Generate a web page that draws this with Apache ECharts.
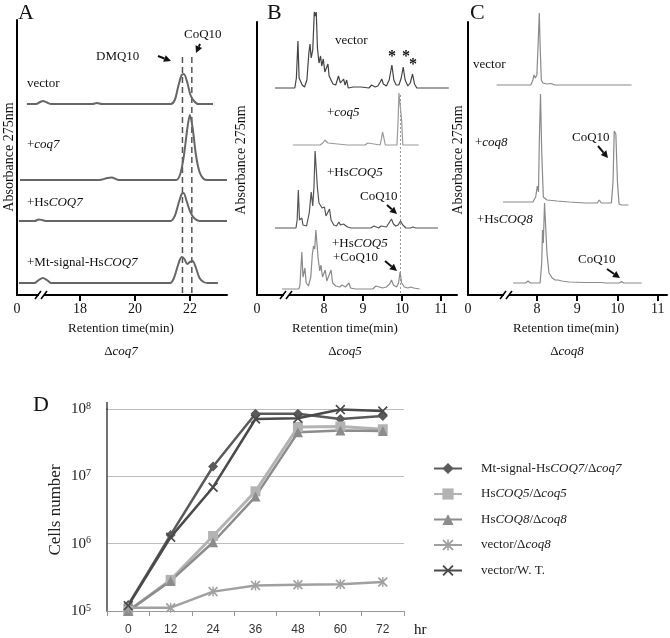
<!DOCTYPE html>
<html>
<head>
<meta charset="utf-8">
<script src="https://cdn.jsdelivr.net/npm/echarts@6/dist/echarts.min.js"></script>
<style>html,body{margin:0;padding:0;background:#fff}#c{width:670px;height:638px}</style>
</head>
<body>
<div id="c"></div>
<script>
// ---------- Panel A (Δcoq7) : [retention time (min), absorbance above baseline] ----------
const aVector = [[16.07,0],[16.4,0],[16.55,2],[16.65,3],[16.8,1.5],[16.95,0],[18.45,0],[18.62,1],[18.8,0],[21.3,0],[21.45,4],[21.58,18],[21.7,29],[21.78,30],[21.9,22],[22.02,9],[22.15,3],[22.3,0],[22.84,0]];
const aCoq7 = [[15.82,0],[18.7,0],[19.0,2],[19.15,2.5],[19.4,0],[21.5,0],[21.65,6],[21.78,24],[21.9,50],[22.0,65],[22.1,52],[22.22,25],[22.35,8],[22.5,1],[22.65,0],[23.35,0]];
const aHsCOQ7 = [[15.78,0],[16.35,0],[16.5,1.5],[16.62,1],[16.8,0],[21.3,0],[21.45,5],[21.58,17],[21.7,27],[21.77,28],[21.88,20],[22.0,10],[22.15,3],[22.35,0],[23.35,0]];
const aMtHsCOQ7 = [[15.78,0],[16.35,0],[16.5,3],[16.65,5],[16.8,3],[16.95,0],[21.28,0],[21.42,5],[21.57,18],[21.7,26],[21.8,24],[21.9,19],[22.0,21],[22.1,22],[22.22,15],[22.35,5],[22.5,1],[22.65,0],[23.02,0]];
const aOffsets = [191, 115, 74, 12];
const aDMQ10 = 21.73, aCoQ10 = 22.07;
const aTicks = [18, 20, 22];

// ---------- Panel B (Δcoq5) ----------
const bVector = [[6.74,0],[7.25,0],[7.29,10],[7.33,47],[7.36,10],[7.39,9],[7.41,12],[7.44,3],[7.5,1],[7.56,8],[7.61,35],[7.64,44],[7.67,30],[7.71,38],[7.75,76],[7.78,72],[7.8,76],[7.83,40],[7.87,25],[7.91,32],[7.94,22],[7.98,29],[8.02,16],[8.06,18],[8.1,24],[8.13,12],[8.18,10],[8.23,4],[8.3,3],[8.37,12],[8.42,5],[8.46,6],[8.5,9],[8.54,3],[8.58,8],[8.62,0],[8.75,1],[8.8,0],[8.95,1],[9.0,0],[9.15,0],[9.22,3],[9.26,4],[9.31,1],[9.38,2],[9.44,6],[9.48,9],[9.52,4],[9.6,2],[9.67,8],[9.74,23],[9.79,8],[9.85,3],[9.92,3],[9.98,10],[10.03,21],[10.08,8],[10.15,2],[10.21,5],[10.27,14],[10.32,4],[10.38,0],[11.2,0]];
const bCoq5 = [[7.2,0],[7.9,0],[7.97,2],[8.02,5],[8.06,4],[8.1,2],[8.15,0],[8.6,0],[8.65,2],[8.7,0],[9.05,0],[9.12,2],[9.17,0],[9.44,0],[9.48,8],[9.5,13],[9.53,8],[9.57,0],[9.87,0],[9.9,25],[9.92,52],[9.97,52],[9.99,25],[10.02,0],[10.43,0]];
const bHsCOQ5 = [[6.74,0],[7.28,0],[7.31,8],[7.34,38],[7.37,8],[7.41,8],[7.43,10],[7.46,3],[7.55,2],[7.62,15],[7.67,36],[7.71,22],[7.74,40],[7.77,77],[7.8,77],[7.83,40],[7.87,25],[7.91,27],[7.95,20],[7.98,19],[8.01,21],[8.05,12],[8.1,14],[8.14,19],[8.18,8],[8.25,3],[8.32,2],[8.38,6],[8.42,3],[8.5,4],[8.55,6],[8.6,1],[8.7,0],[9.2,0],[9.28,2],[9.32,1],[9.4,0],[9.46,2],[9.5,1],[9.6,1],[9.68,6],[9.73,9],[9.78,4],[9.84,2],[9.9,3],[9.96,7],[10.02,3],[10.1,0],[10.22,0],[10.28,1],[10.35,0],[10.92,0]];
const bHsCOQ5CoQ10 = [[6.92,0],[7.35,0],[7.38,3],[7.43,37],[7.46,12],[7.49,14],[7.51,21],[7.54,6],[7.6,3],[7.66,12],[7.7,35],[7.73,43],[7.76,40],[7.79,59],[7.82,59],[7.85,30],[7.89,18],[7.92,24],[7.96,12],[8.0,14],[8.03,19],[8.07,8],[8.12,9],[8.18,19],[8.22,6],[8.3,3],[8.4,2],[8.46,4],[8.5,6],[8.55,2],[8.6,3],[8.64,6],[8.68,1],[8.8,0],[9.25,0],[9.3,2],[9.33,3],[9.38,1],[9.5,1],[9.6,2],[9.68,5],[9.73,9],[9.78,4],[9.86,2],[9.91,6],[9.95,17],[9.99,6],[10.06,2],[10.15,1],[10.22,2],[10.25,3],[10.3,1],[10.45,0]];
const bOffsets = [207, 150, 67, 6];
const bCoQ10Line = 9.96;
const bTicks = [8, 9, 10, 11];

// ---------- Panel C (Δcoq8) ----------
const cVector = [[7.0,0],[7.85,0],[7.9,5],[7.93,10],[7.96,7],[8.0,10],[8.03,40],[8.06,72],[8.08,40],[8.11,5],[8.15,2],[8.25,1],[8.35,1.5],[8.45,0],[10.35,0]];
const cCoq8 = [[7.16,0],[7.9,0],[7.97,5],[8.01,16],[8.04,10],[8.06,60],[8.09,108],[8.12,50],[8.16,5],[8.25,2],[8.5,1],[8.8,0],[9.2,-1],[9.5,-1],[9.55,2],[9.6,-1],[9.85,-1],[9.89,20],[9.92,71],[9.96,68],[10.0,20],[10.04,-2],[10.1,-3],[10.27,-3]];
const cHsCOQ8 = [[7.41,0],[7.72,0],[7.78,2],[7.84,0],[8.08,0],[8.12,20],[8.14,53],[8.16,40],[8.19,80],[8.22,80],[8.25,30],[8.3,10],[8.38,5],[8.45,3],[8.53,3],[8.57,4],[8.62,2],[8.8,1],[9.2,0.5],[9.6,0.5],[9.7,0],[10.05,0],[10.1,1.5],[10.15,0],[10.6,0]];
const cOffsets = [210, 93, 12];
const cTicks = [8, 9, 10, 11];

// ---------- Panel D : growth curves ----------
const hours = ['0', '12', '24', '36', '48', '60', '72'];
const mtCOQ7 = [1.23e5, 1.35e6, 1.4e7, 8.5e7, 8.5e7, 7.1e7, 7.9e7];
const hsCOQ5 = [1.0e5, 2.9e5, 1.3e6, 6.0e6, 5.4e7, 5.5e7, 5.0e7];
const hsCOQ8 = [1.0e5, 2.8e5, 1.05e6, 5.0e6, 4.5e7, 4.8e7, 4.7e7];
const vecCoq8 = [1.12e5, 1.12e5, 1.94e5, 2.4e5, 2.45e5, 2.5e5, 2.7e5];
const vecWT = [1.2e5, 1.25e6, 6.9e6, 7.1e7, 7.3e7, 9.8e7, 9.3e7];
const dNames = ['Mt-signal-HsCOQ7/Δcoq7', 'HsCOQ5/Δcoq5', 'HsCOQ8/Δcoq8', 'vector/Δcoq8', 'vector/W. T.'];

// ---------- build ----------
const SERIF = "'Liberation Serif','DejaVu Serif',serif";
const SANS = "'Liberation Sans','DejaVu Sans',sans-serif";
const chart = echarts.init(document.getElementById('c'), null, {renderer: 'canvas'});

function shift(arr, off) { return arr.map(p => [p[0], p[1] + off]); }

function chromX(gi, min, max, ticks) {
  return {
    gridIndex: gi, type: 'value', min: min, max: max,
    axisLine: {show: true, onZero: false, lineStyle: {color: '#000', width: 2}},
    axisTick: {show: true, inside: false, length: 6, customValues: ticks, lineStyle: {color: '#000', width: 2}},
    axisLabel: {show: true, customValues: [min].concat(ticks), margin: 7,
      fontFamily: SERIF, fontSize: 14, color: '#111',
      formatter: v => (Math.abs(v - min) < 1e-6 ? '0' : String(v))},
    splitLine: {show: false}
  };
}
function chromY(gi, h) {
  return {gridIndex: gi, type: 'value', min: 0, max: h,
    axisLine: {show: true, onZero: false, lineStyle: {color: '#000', width: 2}},
    axisTick: {show: false}, axisLabel: {show: false}, splitLine: {show: false}};
}
function trace(gi, data, off, color, width, smooth) {
  return {type: 'line', xAxisIndex: gi, yAxisIndex: gi, data: shift(data, off),
    symbol: 'none', smooth: smooth || false, clip: false, lineStyle: {color: color, width: width},
    silent: true, animation: false, z: 3};
}
function vline(gi, x, y0, y1, color, type, width) {
  return {type: 'line', xAxisIndex: gi, yAxisIndex: gi, data: [[x, y0], [x, y1]], clip: false,
    symbol: 'none', lineStyle: {color: color, width: width, type: type}, silent: true, animation: false, z: 2};
}

const series = [
  trace(0, aVector, aOffsets[0], '#666', 2, 0.3),
  trace(0, aCoq7, aOffsets[1], '#666', 2, 0.3),
  trace(0, aHsCOQ7, aOffsets[2], '#666', 2, 0.3),
  trace(0, aMtHsCOQ7, aOffsets[3], '#666', 2, 0.3),
  vline(0, aDMQ10, 2, 238, '#555', [6, 4], 1.5),
  vline(0, aCoQ10, 2, 238, '#555', [6, 4], 1.5),

  trace(1, bVector, bOffsets[0], '#444', 1.2),
  trace(1, bCoq5, bOffsets[1], '#9a9a9a', 1.2),
  trace(1, bHsCOQ5, bOffsets[2], '#555', 1.2),
  trace(1, bHsCOQ5CoQ10, bOffsets[3], '#8a8a8a', 1.2),
  vline(1, bCoQ10Line, 2, 202, '#999', [2, 2], 1),

  trace(2, cVector, cOffsets[0], '#8a8a8a', 1.2),
  trace(2, cCoq8, cOffsets[1], '#8a8a8a', 1.2),
  trace(2, cHsCOQ8, cOffsets[2], '#8a8a8a', 1.2)
];

const X_PATH = 'path://M0,1.2L1.2,0L5,3.8L8.8,0L10,1.2L6.2,5L10,8.8L8.8,10L5,6.2L1.2,10L0,8.8L3.8,5Z';
const AST_PATH = 'path://M0,1.2L1.2,0L5,3.8L8.8,0L10,1.2L6.2,5L10,8.8L8.8,10L5,6.2L1.2,10L0,8.8L3.8,5ZM4.3,0L5.7,0L5.7,10L4.3,10Z';
const dDefs = [
  {name: dNames[0], data: mtCOQ7, color: '#5a5a5a', symbol: 'diamond', size: 10, w: 2.5},
  {name: dNames[1], data: hsCOQ5, color: '#b3b3b3', symbol: 'rect', size: 10, w: 3},
  {name: dNames[2], data: hsCOQ8, color: '#8c8c8c', symbol: 'triangle', size: 10, w: 2.5},
  {name: dNames[3], data: vecCoq8, color: '#a0a0a0', symbol: AST_PATH, size: 10, w: 2.5},
  {name: dNames[4], data: vecWT, color: '#4a4a4a', symbol: X_PATH, size: 10, w: 2.5}
];
dDefs.forEach(d => series.push({
  type: 'line', name: d.name, xAxisIndex: 3, yAxisIndex: 3, data: d.data,
  symbol: d.symbol, symbolSize: d.size, showSymbol: true, clip: false,
  lineStyle: {color: d.color, width: d.w}, itemStyle: {color: d.color},
  animation: false, z: 4
}));

// ---------- annotations ----------
function txt(x, y, s, o) {
  o = o || {};
  return {type: 'text', x: x, y: y, rotation: o.rot || 0, z: 10, silent: true,
    style: {text: s, fontFamily: SERIF, fontSize: o.size || 13, fill: o.color || '#111',
      fontWeight: o.weight || 'normal',
      textAlign: o.align || 'left', textVerticalAlign: o.valign || 'middle',
      rich: {i: {fontStyle: 'italic', fontFamily: SERIF, fontSize: o.size || 13, fill: o.color || '#111'},
             n: {fontFamily: SERIF, fontSize: o.size || 13, fill: o.color || '#111'}}}};
}
function arrow(x1, y1, x2, y2) {
  const a = Math.atan2(y2 - y1, x2 - x1), L = 7, W = 3.6;
  const bx = x2 - L * Math.cos(a), by = y2 - L * Math.sin(a);
  const px = -Math.sin(a) * W, py = Math.cos(a) * W;
  return [
    {type: 'line', z: 10, silent: true, shape: {x1: x1, y1: y1, x2: bx, y2: by}, style: {stroke: '#111', lineWidth: 2}},
    {type: 'polygon', z: 10, silent: true, shape: {points: [[x2, y2], [bx + px, by + py], [bx - px, by - py]]}, style: {fill: '#111'}}
  ];
}
function brk(x, y) {
  return [
    {type: 'rect', z: 11, silent: true, shape: {x: x + 1, y: y - 2, width: 5, height: 4}, style: {fill: '#fff'}},
    {type: 'line', z: 12, silent: true, shape: {x1: x - 3, y1: y + 4, x2: x + 3, y2: y - 4}, style: {stroke: '#000', lineWidth: 1.5}},
    {type: 'line', z: 12, silent: true, shape: {x1: x + 3, y1: y + 4, x2: x + 9, y2: y - 4}, style: {stroke: '#000', lineWidth: 1.5}}
  ];
}

const graphics = [].concat(
  [txt(18, 13, 'A', {size: 22}), txt(267, 13, 'B', {size: 22}), txt(470, 13, 'C', {size: 22}), txt(33, 405, 'D', {size: 22})],
  // panel A
  [txt(96, 57, 'DMQ10'), txt(184, 35, 'CoQ10'), txt(27, 84, 'vector'),
   txt(27, 145, '+{i|coq7}'), txt(27, 203, '+Hs{i|COQ7}'), txt(27, 263, '+Mt-signal-Hs{i|COQ7}')],
  arrow(158, 56, 171, 61), arrow(200, 44, 196, 53),
  // panel B
  [txt(335, 41, 'vector'), txt(392, 57, '*', {size: 16, align: 'center', weight: 'bold'}),
   txt(406, 57, '*', {size: 16, align: 'center', weight: 'bold'}), txt(413, 65, '*', {size: 16, align: 'center', weight: 'bold'}),
   txt(327, 113, '+{i|coq5}'), txt(327, 173, '+Hs{i|COQ5}'), txt(360, 197, 'CoQ10'),
   txt(332, 244, '+Hs{i|COQ5}'), txt(333, 258, '+CoQ10')],
  arrow(387, 205, 397, 214), arrow(385, 261, 397, 271),
  // panel C
  [txt(473, 65, 'vector'), txt(475, 143, '+{i|coq8}'), txt(572, 138, 'CoQ10'),
   txt(477, 220, '+Hs{i|COQ8}'), txt(578, 260, 'CoQ10')],
  arrow(598, 146, 608, 158), arrow(607, 269, 620, 278),
  // axis titles
  [txt(9, 157, 'Absorbance 275nm', {size: 14, rot: Math.PI / 2, align: 'center'}),
   txt(241, 160, 'Absorbance 275nm', {size: 14, rot: Math.PI / 2, align: 'center'}),
   txt(458, 160, 'Absorbance 275nm', {size: 14, rot: Math.PI / 2, align: 'center'}),
   txt(121, 329, 'Retention time(min)', {size: 13, align: 'center'}),
   txt(345, 329, 'Retention time(min)', {size: 13, align: 'center'}),
   txt(566, 329, 'Retention time(min)', {size: 13, align: 'center'}),
   txt(121, 352, 'Δ{i|coq7}', {size: 13, align: 'center'}),
   txt(345, 352, 'Δ{i|coq5}', {size: 13, align: 'center'}),
   txt(567, 352, 'Δ{i|coq8}', {size: 13, align: 'center'}),
   txt(414, 630, 'hr', {size: 15})],
  [{type: 'line', z: 5, silent: true, shape: {x1: 107, y1: 402, x2: 107, y2: 410}, style: {stroke: '#444', lineWidth: 1.5}}],
  brk(38, 295), brk(283, 295), brk(503, 295)
);

const legendLabels = {
  [dNames[0]]: 'Mt-signal-Hs{i|COQ7}/Δ{i|coq7}',
  [dNames[1]]: 'Hs{i|COQ5}/Δ{i|coq5}',
  [dNames[2]]: 'Hs{i|COQ8}/Δ{i|coq8}',
  [dNames[3]]: 'vector/Δ{i|coq8}',
  [dNames[4]]: 'vector/W. T.'
};

chart.setOption({
  animation: false,
  grid: [
    {left: 17, top: 20, width: 210, height: 275},
    {left: 257, top: 22, width: 200, height: 273},
    {left: 468, top: 22, width: 199, height: 273},
    {left: 107, top: 409, width: 297, height: 202}
  ],
  xAxis: [
    chromX(0, 15.71, 23.35, aTicks),
    chromX(1, 6.28, 11.41, bTicks),
    chromX(2, 6.29, 11.23, cTicks),
    {gridIndex: 3, type: 'category', data: hours, boundaryGap: true,
     axisLine: {lineStyle: {color: '#999', width: 1}},
     axisTick: {show: true, length: 5, lineStyle: {color: '#999'}},
     axisLabel: {color: '#333', fontSize: 12, fontFamily: SANS, margin: 13},
     splitLine: {show: false}}
  ],
  yAxis: [
    chromY(0, 275), chromY(1, 273), chromY(2, 273),
    {gridIndex: 3, type: 'log', logBase: 10, min: 1e5, max: 1e8,
     name: 'Cells number', nameLocation: 'middle', nameGap: 43, nameRotate: 90,
     nameTextStyle: {fontFamily: SERIF, fontSize: 17, color: '#222'},
     axisLine: {show: true, lineStyle: {color: '#444', width: 1.5}},
     axisTick: {show: false},
     axisLabel: {margin: 16, formatter: v => '{b|10}{s|' + Math.round(Math.log10(v)) + '}',
       rich: {b: {fontFamily: SERIF, fontSize: 15, color: '#222', lineHeight: 16},
              s: {fontFamily: SERIF, fontSize: 10, color: '#222', verticalAlign: 'top', lineHeight: 16, padding: [0, 0, 6, 0]}}},
     splitLine: {show: true, lineStyle: {color: '#bdbdbd', width: 1.2}}}
  ],
  legend: {
    data: dNames, orient: 'vertical', left: 428, top: 457, itemWidth: 28, itemHeight: 14, itemGap: 12.5,
    formatter: n => legendLabels[n],
    textStyle: {fontFamily: SERIF, fontSize: 13, color: '#222', padding: [0, 0, 0, 14],
      rich: {i: {fontFamily: SERIF, fontSize: 13, fontStyle: 'italic', color: '#222'}}},
    selectedMode: false
  },
  series: series,
  graphic: graphics
});
</script>
</body>
</html>
